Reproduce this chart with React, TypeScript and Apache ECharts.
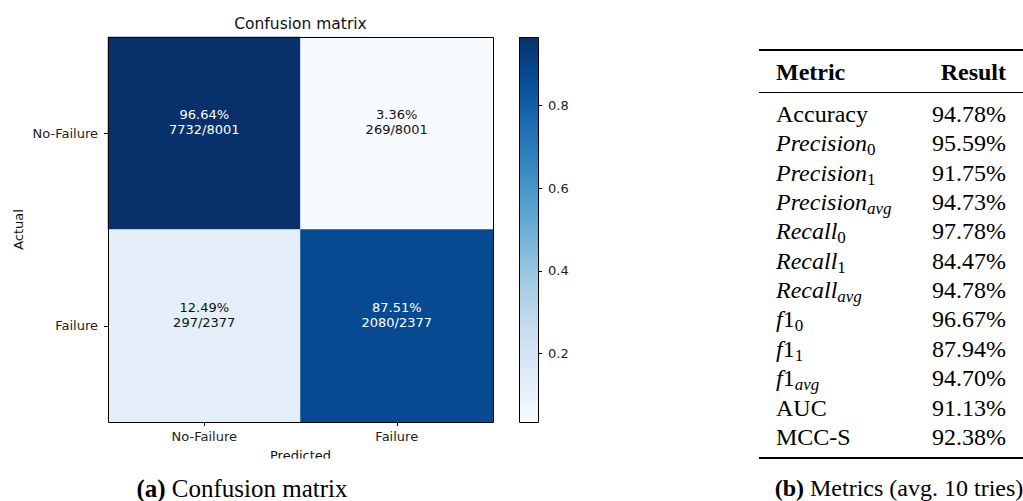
import React, { useEffect, useRef } from 'react';
import * as echarts from 'echarts';

// ---- data ----
const predictedLabels = ['No-Failure', 'Failure'];
const actualLabels = ['No-Failure', 'Failure'];
const ratePercent = [
  [96.64, 3.36],
  [12.49, 87.51],
];
const cellCounts = [
  [7732, 269],
  [297, 2080],
];
const rowTotals = [8001, 2377];
const colorbarTicks = [0.2, 0.4, 0.6, 0.8];
const colorMin = 0.0336;
const colorMax = 0.9664;

const metricLabels = [
  'Accuracy',
  '{i|Precision}{s|0}',
  '{i|Precision}{s|1}',
  '{i|Precision}{si|avg}',
  '{i|Recall}{s|0}',
  '{i|Recall}{s|1}',
  '{i|Recall}{si|avg}',
  '{i|f}1{s|0}',
  '{i|f}1{s|1}',
  '{i|f}1{si|avg}',
  'AUC',
  'MCC-S',
];
const metricValues = [94.78, 95.59, 91.75, 94.73, 97.78, 84.47, 94.78, 96.67, 87.94, 94.7, 91.13, 92.38];

const blues = ['#f7fbff', '#deebf7', '#c6dbef', '#9ecae1', '#6baed6', '#4292c6', '#2171b5', '#08519c', '#08306b'];

const SANS = 'DejaVu Sans';
const SERIF = 'Liberation Serif';

export default function App() {
  const ref = useRef<HTMLDivElement>(null);
  useEffect(() => {
    if (!ref.current) return;
    const chart = echarts.init(ref.current, undefined, { renderer: 'svg' });

    const heatData: any[] = [];
    for (let r = 0; r < actualLabels.length; r++) {
      for (let c = 0; c < predictedLabels.length; c++) {
        const v = ratePercent[r][c];
        heatData.push({
          value: [c, r, v / 100],
          label: { color: v > 48 ? '#ffffff' : '#111111' },
        });
      }
    }

    const gx = 108, gy = 37, gw = 385, gh = 385;
    const cbx = 519, cbw = 19;

    const rowStart = 114;
    const rowStep = 29.35;
    const tableLeft = 776;
    const tableRight = 1006;
    const richStyles = {
      i: { fontFamily: SERIF, fontSize: 24, fontStyle: 'italic', lineHeight: 30, fill: '#000' },
      s: { fontFamily: SERIF, fontSize: 17, lineHeight: 18, verticalAlign: 'bottom', fill: '#000' },
      si: { fontFamily: SERIF, fontSize: 17, fontStyle: 'italic', lineHeight: 18, verticalAlign: 'bottom', fill: '#000' },
    };

    const graphics: any[] = [
      {
        type: 'text', x: gx + gw / 2, y: 24, z: 50,
        style: { text: 'Confusion matrix', fontFamily: SANS, fontSize: 15.5, fill: '#111', align: 'center', verticalAlign: 'middle' },
      },
      {
        type: 'text', x: 18, y: gy + gh / 2, rotation: Math.PI / 2, z: 50,
        style: { text: 'Actual', fontFamily: SANS, fontSize: 13, fill: '#111', align: 'center', verticalAlign: 'middle' },
      },
      {
        type: 'text', x: gx + gw / 2, y: 455.5, z: 50,
        style: { text: 'Predicted', fontFamily: SANS, fontSize: 13, fill: '#111', align: 'center', verticalAlign: 'middle' },
      },
      {
        type: 'rect', z: 60, shape: { x: gx + gw / 2 - 50, y: 458.5, width: 100, height: 12 },
        style: { fill: '#ffffff' },
      },
      {
        type: 'rect', z: 55, shape: { x: gx + 0.5, y: gy + 0.5, width: gw, height: gh },
        style: { fill: 'none', stroke: '#000', lineWidth: 1 },
      },
      {
        type: 'rect', z: 55, shape: { x: cbx + 0.5, y: gy + 0.5, width: cbw, height: gh },
        style: { fill: 'none', stroke: '#000', lineWidth: 1 },
      },
      {
        type: 'text', x: 242, y: 488, z: 50,
        style: {
          text: '{b|(a)} Confusion matrix',
          fontFamily: SERIF, fontSize: 25, lineHeight: 22, fill: '#000', align: 'center', verticalAlign: 'middle',
          rich: { b: { fontFamily: SERIF, fontSize: 25, lineHeight: 22, fontWeight: 'bold', fill: '#000' } },
        },
      },
      {
        type: 'text', x: 899, y: 488, z: 50,
        style: {
          text: '{b|(b)} Metrics (avg. 10 tries)',
          fontFamily: SERIF, fontSize: 24, lineHeight: 22, fill: '#000', align: 'center', verticalAlign: 'middle',
          rich: { b: { fontFamily: SERIF, fontSize: 24, lineHeight: 22, fontWeight: 'bold', fill: '#000' } },
        },
      },
      // table rules
      { type: 'line', z: 50, shape: { x1: 759, y1: 50, x2: 1023, y2: 50 }, style: { stroke: '#000', lineWidth: 2 } },
      { type: 'line', z: 50, shape: { x1: 759, y1: 92.5, x2: 1023, y2: 92.5 }, style: { stroke: '#000', lineWidth: 1.2 } },
      { type: 'line', z: 50, shape: { x1: 759, y1: 458, x2: 1023, y2: 458 }, style: { stroke: '#000', lineWidth: 2 } },
      {
        type: 'text', x: tableLeft, y: 72, z: 50,
        style: { text: 'Metric', fontFamily: SERIF, fontSize: 24, fontWeight: 'bold', fill: '#000', align: 'left', verticalAlign: 'middle' },
      },
      {
        type: 'text', x: tableRight, y: 72, z: 50,
        style: { text: 'Result', fontFamily: SERIF, fontSize: 24, fontWeight: 'bold', fill: '#000', align: 'right', verticalAlign: 'middle' },
      },
    ];

    metricLabels.forEach((lab, i) => {
      const y = rowStart + i * rowStep;
      graphics.push({
        type: 'text', x: tableLeft, y, z: 50,
        style: {
          text: lab, fontFamily: SERIF, fontSize: 24, lineHeight: 30, fill: '#000',
          align: 'left', verticalAlign: 'middle', rich: richStyles,
        },
      });
      graphics.push({
        type: 'text', x: tableRight, y, z: 50,
        style: {
          text: metricValues[i].toFixed(2) + '%', fontFamily: SERIF, fontSize: 24, fill: '#000',
          align: 'right', verticalAlign: 'middle',
        },
      });
    });

    const option: any = {
      animation: false,
      backgroundColor: '#ffffff',
      grid: [
        { left: gx, top: gy, width: gw, height: gh, show: false },
        { left: cbx, top: gy, width: cbw, height: gh, show: false },
      ],
      visualMap: {
        type: 'continuous', show: false, min: colorMin, max: colorMax,
        seriesIndex: 0, dimension: 2, inRange: { color: blues },
      },
      xAxis: [
        {
          gridIndex: 0, type: 'category', data: predictedLabels,
          axisLine: { show: false },
          axisTick: { show: true, alignWithLabel: true, length: 4, lineStyle: { color: '#000' } },
          axisLabel: { margin: 8, fontFamily: SANS, fontSize: 13, color: '#222' },
          splitLine: { show: false },
        },
        { gridIndex: 1, type: 'category', data: ['cb'], show: false },
      ],
      yAxis: [
        {
          gridIndex: 0, type: 'category', data: actualLabels, inverse: true,
          axisLine: { show: false },
          axisTick: { show: true, alignWithLabel: true, length: 4, lineStyle: { color: '#000' } },
          axisLabel: { margin: 10, fontFamily: SANS, fontSize: 13, color: '#222' },
          splitLine: { show: false },
        },
        {
          gridIndex: 1, type: 'value', position: 'right', min: colorMin, max: colorMax,
          axisLine: { show: false },
          axisTick: { show: true, length: 4, lineStyle: { color: '#000' }, customValues: colorbarTicks },
          axisLabel: {
            margin: 10, fontFamily: SANS, fontSize: 13, color: '#222', customValues: colorbarTicks,
            formatter: (v: number) => v.toFixed(1),
          },
          splitLine: { show: false },
        },
      ],
      series: [
        {
          type: 'heatmap', xAxisIndex: 0, yAxisIndex: 0, data: heatData,
          label: {
            show: true, fontFamily: SANS, fontSize: 13, lineHeight: 15, offset: [0, -11],
            formatter: (p: any) => {
              const c = p.value[0], r = p.value[1];
              return ratePercent[r][c].toFixed(2) + '%\n' + cellCounts[r][c] + '/' + rowTotals[r];
            },
          },
          itemStyle: { borderWidth: 0 },
          emphasis: { disabled: true },
        },
        {
          type: 'bar', xAxisIndex: 1, yAxisIndex: 1, data: [colorMax], barWidth: '100%', silent: true,
          itemStyle: {
            color: {
              type: 'linear', x: 0, y: gy + gh, x2: 0, y2: gy, global: true,
              colorStops: blues.map((c, i) => ({ offset: i / (blues.length - 1), color: c })),
            },
          },
        },
      ],
      graphic: graphics,
    };

    chart.setOption(option);
    return () => chart.dispose();
  }, []);

  return <div ref={ref} style={{ position: 'fixed', left: 0, top: 0, width: 1023, height: 501 }} />;
}
